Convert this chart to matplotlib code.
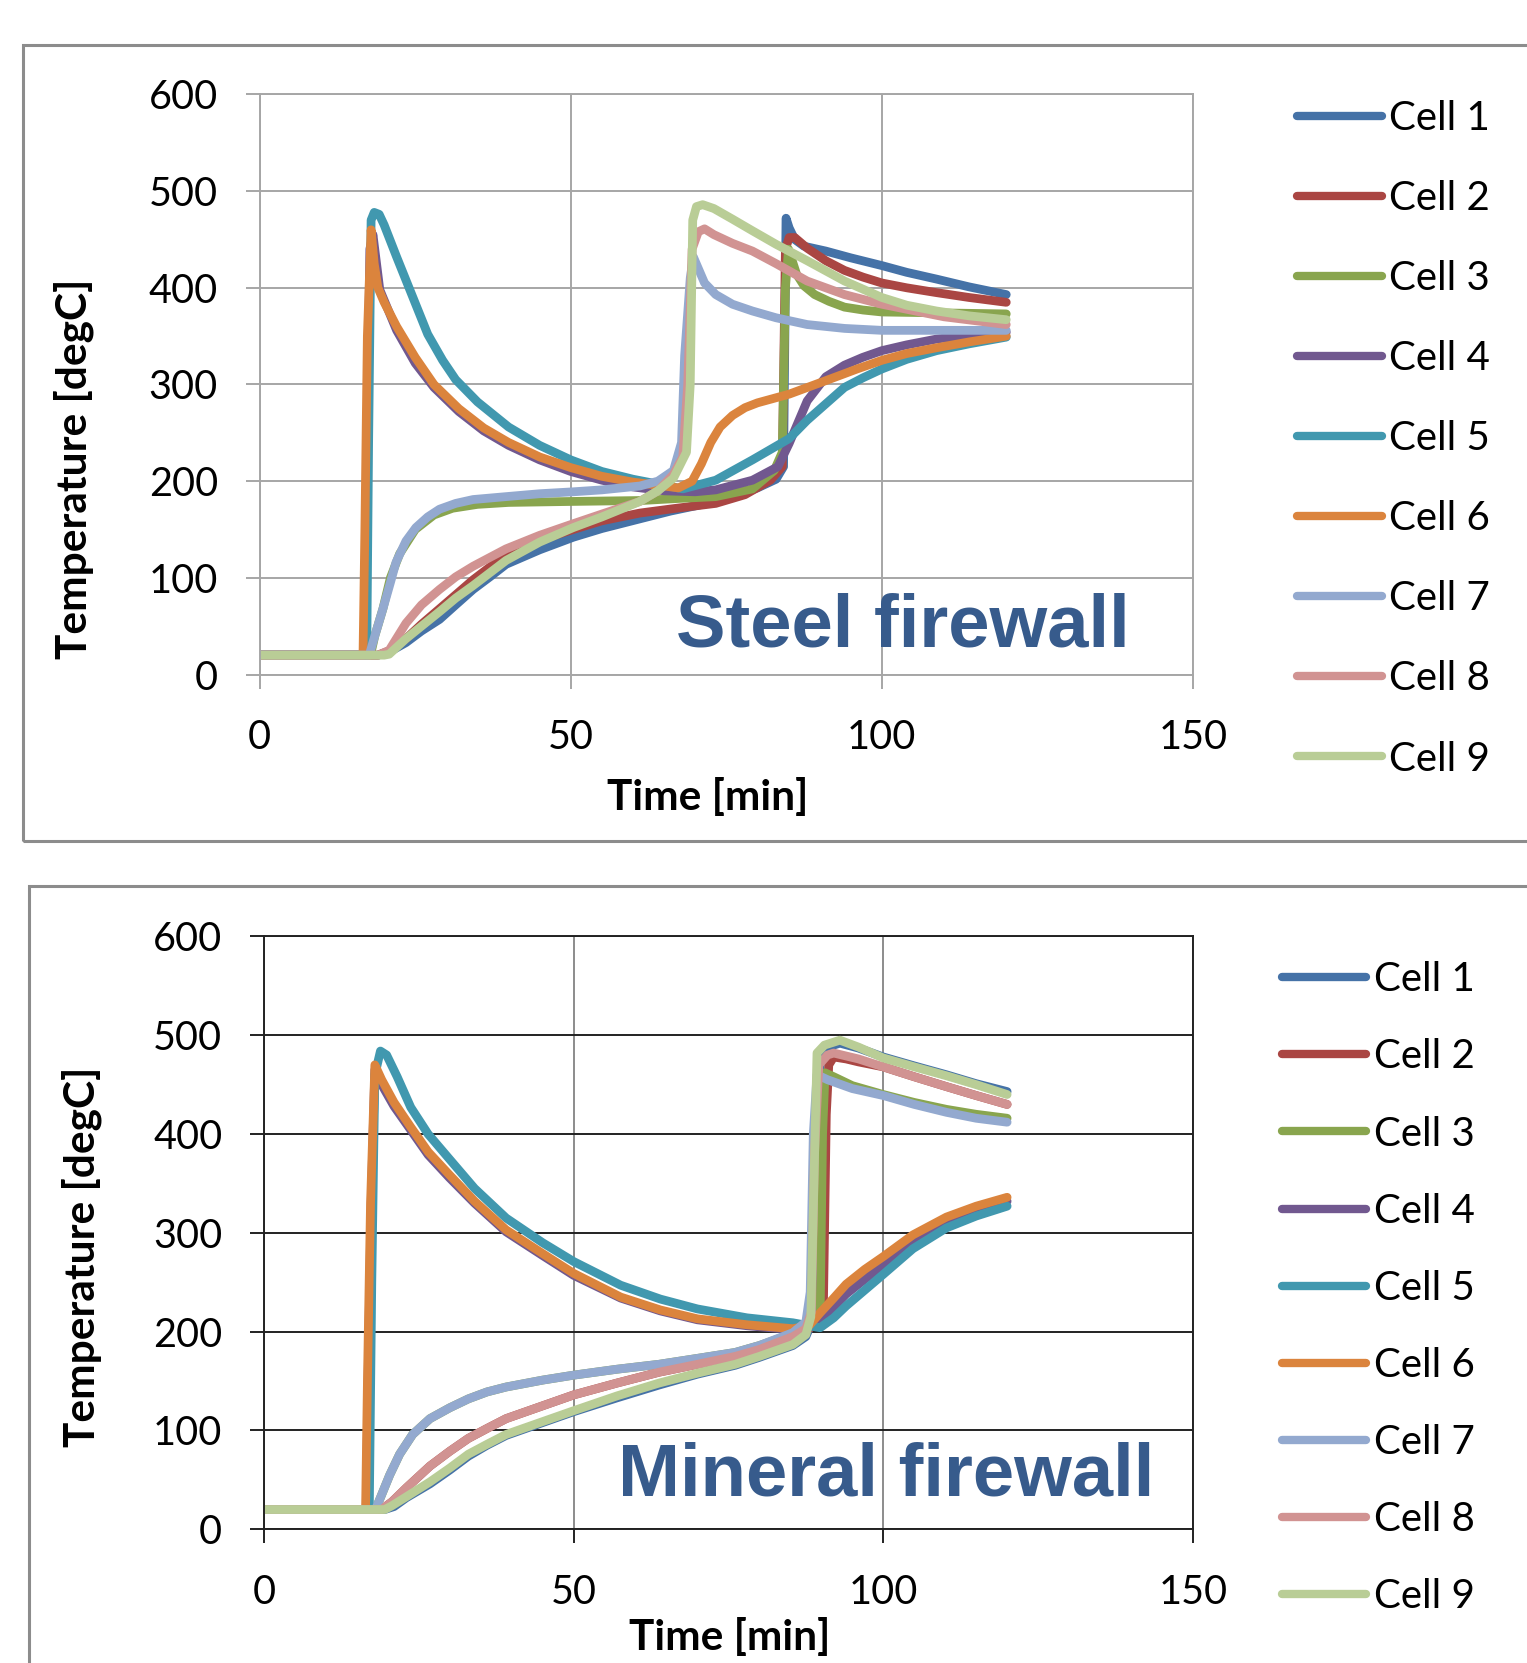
import matplotlib
matplotlib.use("Agg")
import matplotlib.pyplot as plt
from matplotlib.patches import Rectangle

plt.rcParams['font.family'] = ['Lato', 'DejaVu Sans']

labels = ["Cell 1", "Cell 2", "Cell 3", "Cell 4", "Cell 5",
          "Cell 6", "Cell 7", "Cell 8", "Cell 9"]
colors = ["#4572A7", "#AA4643", "#89A54E", "#71588F", "#4198AF",
          "#DB843D", "#93A9CF", "#D19392", "#B9CD96"]

# ---- Steel firewall: time [min] and temperature [degC] per cell ----
steel_t1 = [0, 19, 21, 23.5, 26, 28.9, 31.5, 34.3, 37, 39.6, 45, 50.4, 55, 61.1, 66, 71.9, 76, 80, 83,
            84.2, 84.6, 85.1, 86, 87.5, 91, 95, 100, 104, 108.8, 114, 120]
steel_T1 = [20, 20, 24, 33, 45, 57, 72, 88, 101, 114, 129, 142, 151, 161, 169, 177, 184, 193, 202,
            215, 472, 462, 450, 443, 438, 431, 423, 416, 409, 401, 393]
steel_t2 = [0, 19, 21, 23.5, 26, 28.9, 34.3, 39.6, 45, 50.4, 55, 61.1, 67, 73.3, 78, 82.1, 84.0, 84.5,
            85.1, 86, 88, 91, 94, 97, 100, 104, 108.8, 114, 120]
steel_T2 = [20, 20, 25, 37, 52, 68, 98, 124, 139, 150, 159, 167, 172, 177, 186, 201, 215, 440,
            452, 452, 441, 428, 418, 411, 405, 400, 395, 390, 385]
steel_t3 = [0, 17.8, 18.5, 19.8, 21, 22.5, 25, 28, 31, 35, 40, 50, 61.4, 67, 73.3, 79.2, 82.7, 84.0,
            84.5, 85.0, 86.3, 87.5, 89.2, 91.5, 94, 97, 100, 110, 120]
steel_T3 = [20, 20, 40, 68, 100, 125, 150, 165, 172, 176, 178, 179, 180, 182, 184, 192, 211, 230,
            400, 440, 414, 402, 393, 386, 380, 377, 375, 374, 373]
steel_t4 = [0, 16.8, 17.2, 17.7, 18.2, 19.3, 22, 25, 28, 32, 36, 40, 45, 50, 55, 60, 65, 70, 73.3,
            79.2, 83.3, 85.1, 88, 91, 94, 96.9, 100, 104, 108.8, 114, 120]
steel_T4 = [20, 20, 200, 440, 455, 398, 356, 322, 297, 272, 252, 237, 222, 210, 201, 194, 190, 189, 191,
            201, 215, 239, 283, 308, 320, 328, 335, 341, 347, 351, 354]
steel_t5 = [0, 17.2, 17.5, 17.9, 18.4, 19.2, 20, 22, 24, 27, 29.4, 31.5, 35, 40, 45, 50, 55, 60, 64,
            68, 73.3, 79.2, 85.1, 88, 91, 94, 97, 100, 104, 108.8, 114, 120]
steel_T5 = [20, 20, 240, 470, 478, 476, 465, 432, 400, 352, 325, 305, 282, 256, 237, 222, 210, 202, 197,
            192, 201, 222, 244, 263, 280, 297, 307, 316, 326, 335, 342, 349]
steel_t6 = [0, 16.6, 16.9, 17.3, 17.9, 18.4, 19.0, 20, 22, 25, 28, 32, 36, 40, 45, 50, 55, 60, 65,
            67.3, 69.5, 71, 72.5, 74, 76, 78, 80, 85.1, 91, 96, 100, 104, 108.8, 114, 120]
steel_T6 = [20, 20, 150, 350, 460, 425, 400, 385, 360, 328, 300, 275, 255, 240, 225, 214, 205, 199, 195,
            193, 200, 218, 240, 256, 268, 276, 281, 290, 304, 316, 325, 332, 338, 344, 350]
steel_t7 = [0, 17.6, 18.5, 19.8, 21, 21.9, 23.5, 25.1, 27, 28.9, 31.5, 34.3, 39.6, 45, 50.4, 55, 61.1,
            64, 66.5, 67.8, 68.3, 69.2, 69.7, 70.5, 71.5, 73.3, 76, 79.2, 83, 88, 94, 100, 110, 120]
steel_T7 = [20, 20, 40, 68, 95, 116, 138, 152, 163, 171, 177, 181, 184, 187, 189, 191, 195,
            200, 211, 240, 330, 410, 432, 420, 405, 393, 383, 376, 369, 362, 358, 356, 356, 356]
steel_t8 = [0, 19, 20.8, 23.5, 26, 28.9, 31.5, 34.3, 39.6, 45, 50.4, 55, 61.1, 64, 66.5, 68, 68.8,
            69.5, 70.5, 71.5, 73, 76, 79.2, 83, 88, 94, 100, 110, 120]
steel_T8 = [20, 20, 25, 53, 72, 88, 101, 112, 130, 144, 156, 166, 179, 190, 207, 225, 300,
            440, 458, 461, 455, 446, 438, 425, 407, 393, 383, 370, 362]
steel_t9 = [0, 20, 20.8, 23.5, 26, 28.9, 31.5, 34.3, 39.6, 45, 50.4, 55, 61.1, 64, 66.5, 68.6, 69.2,
            69.6, 70.2, 71.2, 73, 76, 79.2, 83, 88, 94, 100, 104, 108.8, 114, 120]
steel_T9 = [20, 20, 21, 37, 50, 65, 79, 92, 118, 137, 152, 163, 179, 190, 203, 230, 300,
            470, 484, 486, 482, 471, 459, 445, 428, 407, 390, 382, 376, 371, 367]

# ---- Mineral firewall ----
min_t1 = [0, 19.5, 21, 23, 26.8, 30, 33, 36, 39.1, 45, 50, 57, 63.8, 70, 76.1, 80, 85.4, 87.5, 88.5,
          89.2, 89.8, 91, 93, 96, 100, 105, 110.2, 115, 120]
min_T1 = [20, 20, 23, 32, 46, 60, 74, 85, 95, 108, 119, 133, 146, 157, 166, 174, 186, 195, 210,
          300, 470, 488, 492, 487, 478, 469, 460, 451, 443]
min_t2 = [0, 19, 20.7, 23, 26.8, 30, 33, 36, 39.1, 45, 50, 57, 63.8, 70, 76.1, 80, 85.4, 88, 90.3,
          90.8, 91.2, 92, 94, 96, 100, 105, 110.2, 115, 120]
min_T2 = [20, 20, 28, 42, 64, 79, 92, 102, 112, 125, 136, 148, 159, 167, 175, 182, 194, 203, 212,
          420, 470, 478, 476, 473, 468, 458, 448, 439, 430]
min_t3 = [0, 18, 18.8, 20.3, 21.9, 24, 26.8, 30, 33, 36, 39.1, 45, 50, 57, 63.8, 70, 76.1, 80, 85.4,
          88, 89.8, 90.2, 90.6, 92, 95, 100, 105, 110.2, 115, 120]
min_T3 = [20, 20, 32, 55, 76, 96, 112, 123, 132, 139, 144, 151, 156, 162, 167, 173, 179, 186, 198,
          206, 215, 400, 462, 458, 449, 440, 432, 425, 420, 416]
min_t4 = [0, 16.5, 16.8, 17.3, 17.9, 19, 21, 23.7, 26.5, 29.9, 34, 39.1, 45, 50, 57.6, 64, 70, 78,
          85.4, 88, 89.8, 92, 94, 97, 100, 104.8, 110.2, 115, 120]
min_T4 = [20, 20, 150, 330, 465, 450, 428, 404, 379, 356, 330, 301, 277, 257, 234, 221, 212, 206,
          202, 204, 210, 225, 238, 253, 267, 291, 311, 322, 332]
min_t5 = [0, 17, 17.4, 17.9, 18.8, 19.8, 21.5, 23.7, 26.5, 29.9, 34, 39.1, 45, 50, 57.6, 64, 70, 78,
          85.4, 88, 89.8, 92, 94, 97, 100, 104.8, 110.2, 115, 120]
min_T5 = [20, 20, 250, 460, 484, 480, 458, 427, 400, 375, 345, 315, 290, 271, 247, 233, 223, 214,
          209, 206, 204, 214, 226, 242, 258, 284, 305, 317, 327]
min_t6 = [0, 16.4, 16.7, 17.2, 17.9, 19, 21, 23.7, 26.5, 29.9, 34, 39.1, 45, 50, 57.6, 64, 70, 78,
          85.4, 88, 89.8, 92, 94, 97, 100, 104.8, 110.2, 115, 120]
min_T6 = [20, 20, 150, 330, 470, 455, 432, 407, 382, 359, 332, 303, 279, 259, 235, 222, 213, 207,
          203, 206, 219, 234, 248, 263, 276, 298, 316, 327, 336]
min_t7 = [0, 18, 18.8, 20.3, 21.9, 24, 26.8, 30, 33, 36, 39.1, 45, 50, 57, 63.8, 70, 76.1, 80, 85.4,
          87.5, 88.2, 88.7, 89.3, 91, 95, 100, 105, 110.2, 115, 120]
min_T7 = [20, 20, 32, 55, 76, 96, 112, 123, 132, 139, 144, 151, 156, 162, 167, 173, 179, 186, 199,
          210, 240, 400, 460, 455, 446, 439, 430, 422, 416, 412]
min_t8 = [0, 19, 20.7, 23, 26.8, 30, 33, 36, 39.1, 45, 50, 57, 63.8, 70, 76.1, 80, 85.4, 87.5, 88.4,
          88.9, 89.6, 91, 92, 96, 100, 105, 110.2, 115, 120]
min_T8 = [20, 20, 28, 42, 64, 79, 92, 102, 112, 125, 136, 148, 159, 167, 175, 182, 195, 203, 220,
          380, 470, 480, 482, 476, 468, 458, 448, 439, 430]
min_t9 = [0, 19.5, 20.7, 23, 26.8, 30, 33, 36, 39.1, 45, 50, 57, 63.8, 70, 76.1, 80, 85.4, 87.5, 88.3,
          88.8, 89.3, 90.5, 93, 96, 100, 105, 110.2, 115, 120]
min_T9 = [20, 20, 24, 33, 48, 62, 76, 86, 96, 109, 120, 135, 148, 158, 167, 175, 187, 197, 215,
          350, 482, 490, 495, 488, 477, 468, 459, 450, 440]

steel = [(steel_t1, steel_T1), (steel_t2, steel_T2), (steel_t3, steel_T3), (steel_t4, steel_T4),
         (steel_t5, steel_T5), (steel_t6, steel_T6), (steel_t7, steel_T7), (steel_t8, steel_T8),
         (steel_t9, steel_T9)]
mineral = [(min_t1, min_T1), (min_t2, min_T2), (min_t3, min_T3), (min_t4, min_T4),
           (min_t5, min_T5), (min_t6, min_T6), (min_t7, min_T7), (min_t8, min_T8),
           (min_t9, min_T9)]

fig = plt.figure(figsize=(15.27, 16.63), dpi=100)

# gray frames around each chart
fig.add_artist(Rectangle((0.0153, 0.4943), 1.2, 0.4789, transform=fig.transFigure,
                         fill=False, edgecolor="#8c8c8c", linewidth=2.2))
fig.add_artist(Rectangle((0.0188, -0.2), 1.2, 0.6675, transform=fig.transFigure,
                         fill=False, edgecolor="#8c8c8c", linewidth=2.2))


def make_panel(rect, data, hgrid, vgrid, spine, title, title_xy, xlab_xy, ylab_xy,
               leg_anchor, leg_spacing):
    ax = fig.add_axes(rect)
    for (t, T), c, lab in zip(data, colors, labels):
        ax.plot(t, T, color=c, lw=6.3, label=lab, solid_joinstyle="round",
                solid_capstyle="round")
    ax.set_xlim(0, 150)
    ax.set_ylim(0, 600)
    ax.set_xticks([0, 50, 100, 150])
    ax.set_yticks(range(0, 601, 100))
    ax.yaxis.grid(True, color=hgrid, lw=1.4)
    ax.xaxis.grid(True, color=vgrid, lw=1.4)
    ax.set_axisbelow(True)
    for s in ax.spines.values():
        s.set_color(spine)
        s.set_linewidth(1.4)
    ax.tick_params(axis="both", direction="out", length=10, width=1.4, color=spine,
                   labelsize=28.5)
    ax.tick_params(axis="y", pad=20)
    ax.tick_params(axis="x", pad=22)
    ax.set_xlabel("Time [min]", fontsize=30.5, fontweight="bold")
    ax.set_ylabel("Temperature [degC]", fontsize=30.5, fontweight="bold")
    ax.xaxis.set_label_coords(*xlab_xy)
    ax.yaxis.set_label_coords(*ylab_xy)
    ax.text(title_xy[0], title_xy[1], title, transform=ax.transAxes, ha="left",
            va="baseline", fontsize=53.5, fontweight="bold", color="#375b8c",
            family="Liberation Sans")
    leg = ax.legend(loc="upper left", bbox_to_anchor=leg_anchor,
                    bbox_transform=fig.transFigure, frameon=False, fontsize=29,
                    handlelength=2.1, handletextpad=0.18, labelspacing=leg_spacing,
                    borderpad=0, borderaxespad=0)
    for h in leg.get_lines():
        h.set_linewidth(6.0)
    return ax


make_panel([0.1701, 0.5944, 0.6111, 0.3488], steel, "#a6a6a6", "#a6a6a6", "#a6a6a6",
           "Steel firewall", (0.4466, 0.0475), (0.48, -0.178), (-0.178, 0.355),
           (0.8496, 0.940), 1.07)
make_panel([0.1729, 0.0804, 0.6083, 0.3565], mineral, "#222222", "#8c8c8c", "#222222",
           "Mineral firewall", (0.381, 0.057), (0.501, -0.15), (-0.174, 0.46),
           (0.8395, 0.4219), 0.995)

fig.savefig("out.png", dpi=100)
